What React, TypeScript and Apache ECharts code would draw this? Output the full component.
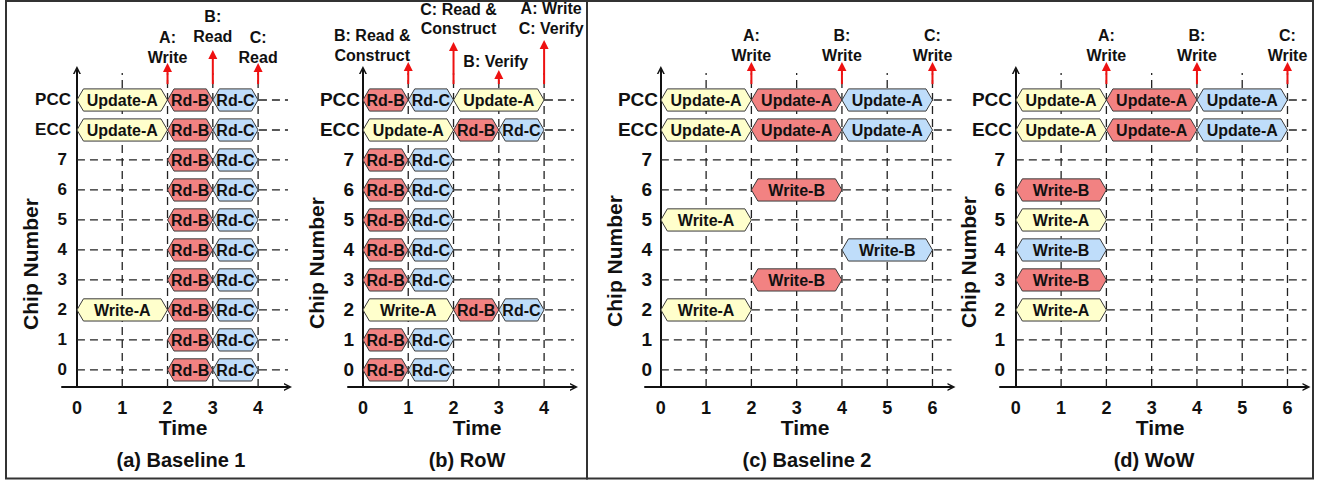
import React, { useEffect, useRef } from 'react';
import * as echarts from 'echarts';

// ---------- data ----------
const ROW_NAMES = ['0', '1', '2', '3', '4', '5', '6', '7', 'ECC', 'PCC'];
const ROW_VALUES = [0, 1, 2, 3, 4, 5, 6, 7, 8, 9];
const TIMES_SHORT = [0, 1, 2, 3, 4];
const TIMES_LONG = [0, 1, 2, 3, 4, 5, 6];

// [row, start, end, label, request]
const baseline1Tasks = [
  ['PCC', 0, 2, 'Update-A', 'A'], ['PCC', 2, 3, 'Rd-B', 'B'], ['PCC', 3, 4, 'Rd-C', 'C'],
  ['ECC', 0, 2, 'Update-A', 'A'], ['ECC', 2, 3, 'Rd-B', 'B'], ['ECC', 3, 4, 'Rd-C', 'C'],
  ['7', 2, 3, 'Rd-B', 'B'], ['7', 3, 4, 'Rd-C', 'C'],
  ['6', 2, 3, 'Rd-B', 'B'], ['6', 3, 4, 'Rd-C', 'C'],
  ['5', 2, 3, 'Rd-B', 'B'], ['5', 3, 4, 'Rd-C', 'C'],
  ['4', 2, 3, 'Rd-B', 'B'], ['4', 3, 4, 'Rd-C', 'C'],
  ['3', 2, 3, 'Rd-B', 'B'], ['3', 3, 4, 'Rd-C', 'C'],
  ['2', 0, 2, 'Write-A', 'A'], ['2', 2, 3, 'Rd-B', 'B'], ['2', 3, 4, 'Rd-C', 'C'],
  ['1', 2, 3, 'Rd-B', 'B'], ['1', 3, 4, 'Rd-C', 'C'],
  ['0', 2, 3, 'Rd-B', 'B'], ['0', 3, 4, 'Rd-C', 'C'],
];

const rowTasks = [
  ['PCC', 0, 1, 'Rd-B', 'B'], ['PCC', 1, 2, 'Rd-C', 'C'], ['PCC', 2, 4, 'Update-A', 'A'],
  ['ECC', 0, 2, 'Update-A', 'A'], ['ECC', 2, 3, 'Rd-B', 'B'], ['ECC', 3, 4, 'Rd-C', 'C'],
  ['7', 0, 1, 'Rd-B', 'B'], ['7', 1, 2, 'Rd-C', 'C'],
  ['6', 0, 1, 'Rd-B', 'B'], ['6', 1, 2, 'Rd-C', 'C'],
  ['5', 0, 1, 'Rd-B', 'B'], ['5', 1, 2, 'Rd-C', 'C'],
  ['4', 0, 1, 'Rd-B', 'B'], ['4', 1, 2, 'Rd-C', 'C'],
  ['3', 0, 1, 'Rd-B', 'B'], ['3', 1, 2, 'Rd-C', 'C'],
  ['2', 0, 2, 'Write-A', 'A'], ['2', 2, 3, 'Rd-B', 'B'], ['2', 3, 4, 'Rd-C', 'C'],
  ['1', 0, 1, 'Rd-B', 'B'], ['1', 1, 2, 'Rd-C', 'C'],
  ['0', 0, 1, 'Rd-B', 'B'], ['0', 1, 2, 'Rd-C', 'C'],
];

const baseline2Tasks = [
  ['PCC', 0, 2, 'Update-A', 'A'], ['PCC', 2, 4, 'Update-A', 'B'], ['PCC', 4, 6, 'Update-A', 'C'],
  ['ECC', 0, 2, 'Update-A', 'A'], ['ECC', 2, 4, 'Update-A', 'B'], ['ECC', 4, 6, 'Update-A', 'C'],
  ['6', 2, 4, 'Write-B', 'B'],
  ['5', 0, 2, 'Write-A', 'A'],
  ['4', 4, 6, 'Write-B', 'C'],
  ['3', 2, 4, 'Write-B', 'B'],
  ['2', 0, 2, 'Write-A', 'A'],
];

const wowTasks = [
  ['PCC', 0, 2, 'Update-A', 'A'], ['PCC', 2, 4, 'Update-A', 'B'], ['PCC', 4, 6, 'Update-A', 'C'],
  ['ECC', 0, 2, 'Update-A', 'A'], ['ECC', 2, 4, 'Update-A', 'B'], ['ECC', 4, 6, 'Update-A', 'C'],
  ['6', 0, 2, 'Write-B', 'B'],
  ['5', 0, 2, 'Write-A', 'A'],
  ['4', 0, 2, 'Write-B', 'C'],
  ['3', 0, 2, 'Write-B', 'B'],
  ['2', 0, 2, 'Write-A', 'A'],
];

// [time, label]
const baseline1Events = [[2, 'A:\nWrite'], [3, 'B:\nRead'], [4, 'C:\nRead']];
const rowEvents = [[1, 'B: Read &\nConstruct'], [2, 'C: Read &\nConstruct'], [3, 'B: Verify'], [4, 'A: Write\nC: Verify']];
const baseline2Events = [[2, 'A:\nWrite'], [4, 'B:\nWrite'], [6, 'C:\nWrite']];
const wowEvents = [[2, 'A:\nWrite'], [4, 'B:\nWrite'], [6, 'C:\nWrite']];

const PANEL_TITLES = ['(a) Baseline 1', '(b) RoW', '(c) Baseline 2', '(d) WoW'];

// ---------- layout / style ----------
const FONT = '"Liberation Sans", Arial, Helvetica, sans-serif';
const COLORS = { A: '#FFFFCC', B: '#F28282', C: '#BFDDFA' };
const ARROW_RED = '#EE1111';
const Y_MIN = -0.57;
const Y_MAX = 10;
const BAR_H = 0.74;
const ARROW_BASE = 9.53;
const CHEVRON = 'path://M0,10 L5,0 L10,10 L8,10 L5,4 L2,10 Z';

// event arrow layout: tip level, level of last label line, horizontal label shift (px)
const baseline1Layout = [{ tip: 10.23, label: 10.43, dx: 0 }, { tip: 10.67, label: 11.12, dx: 0 }, { tip: 10.23, label: 10.43, dx: 0 }];
const rowLayout = [{ tip: 10.27, label: 10.5, dx: -36 }, { tip: 10.93, label: 11.37, dx: 5 }, { tip: 10.0, label: 10.3, dx: -3 }, { tip: 11.0, label: 11.4, dx: 7 }];
const b2Layout = [{ tip: 10.27, label: 10.5, dx: 0 }, { tip: 10.27, label: 10.5, dx: 0 }, { tip: 10.27, label: 10.5, dx: 0 }];

const panels = [
  { tasks: baseline1Tasks, events: baseline1Events, layout: baseline1Layout, times: TIMES_SHORT, xMin: -0.33, xMax: 4.66, grid: { left: 62, width: 226 }, yFont: 17, yMargin: -9, digitPad: 4, time: 183, title: 181, chip: [30, 264] },
  { tasks: rowTasks, events: rowEvents, layout: rowLayout, times: TIMES_SHORT, xMin: -0.33, xMax: 4.66, grid: { left: 348, width: 226 }, yFont: 19, yMargin: -12, digitPad: 6, time: 477, title: 467, chip: [316, 263] },
  { tasks: baseline2Tasks, events: baseline2Events, layout: b2Layout, times: TIMES_LONG, xMin: -0.35, xMax: 6.42, grid: { left: 645, width: 306.5 }, yFont: 19, yMargin: -13, digitPad: 6, time: 805, title: 807, chip: [614, 261] },
  { tasks: wowTasks, events: wowEvents, layout: b2Layout, times: TIMES_LONG, xMin: -0.35, xMax: 6.42, grid: { left: 1000, width: 306.5 }, yFont: 19, yMargin: -12, digitPad: 7, time: 1160, title: 1154, chip: [968, 262] },
];

function buildOption() {
  const grid: any[] = [];
  const xAxis: any[] = [];
  const yAxis: any[] = [];
  const series: any[] = [];
  const graphic: any[] = [];

  panels.forEach((p, i) => {
    grid.push({ left: p.grid.left, width: p.grid.width, top: 70, height: 317, containLabel: false });
    xAxis.push({
      type: 'value', gridIndex: i, min: p.xMin, max: p.xMax,
      axisLine: { show: true, onZero: false, symbol: ['none', CHEVRON], symbolSize: [11, 8], lineStyle: { color: '#111', width: 2 } },
      axisTick: { show: false },
      splitLine: { show: false },
      axisLabel: { customValues: p.times, margin: 12, fontSize: 18, fontWeight: 'bold', color: '#111', fontFamily: FONT },
    });
    const labelStyle = { fontSize: p.yFont, fontWeight: 'bold', color: '#111', fontFamily: FONT };
    yAxis.push({
      type: 'value', gridIndex: i, min: Y_MIN, max: Y_MAX,
      axisLine: { show: true, onZero: true, symbol: ['none', CHEVRON], symbolSize: [11, 8], lineStyle: { color: '#111', width: 2 } },
      axisTick: { show: false },
      splitLine: { show: false },
      axisLabel: {
        customValues: ROW_VALUES, margin: p.yMargin, ...labelStyle,
        formatter: (v: number) => {
          const name = ROW_NAMES[Math.round(v)] ?? '';
          return /^\d+$/.test(name) ? `{d|${name}}` : `{n|${name}}`;
        },
        rich: {
          d: { ...labelStyle, padding: [0, p.digitPad, 0, 0] },
          n: { ...labelStyle },
        },
      },
    });

    // horizontal dashed grid lines
    series.push({
      type: 'custom', xAxisIndex: i, yAxisIndex: i, z: 1, silent: true,
      data: ROW_VALUES.map((v) => [0, v]),
      renderItem: (params: any, api: any) => {
        const cs = params.coordSys;
        const pt = api.coord([0, api.value(1)]);
        return {
          type: 'line',
          shape: { x1: pt[0], y1: pt[1], x2: cs.x + cs.width, y2: pt[1] },
          style: { stroke: '#222', lineWidth: 1.3, lineDash: [8, 5] },
        };
      },
    });
    // vertical dashed grid lines
    series.push({
      type: 'custom', xAxisIndex: i, yAxisIndex: i, z: 1, silent: true,
      data: p.times.filter((t) => t > 0).map((t) => [t, 0]),
      renderItem: (params: any, api: any) => {
        const cs = params.coordSys;
        const pt = api.coord([api.value(0), 0]);
        return {
          type: 'line',
          shape: { x1: pt[0], y1: cs.y + cs.height, x2: pt[0], y2: cs.y + 3 },
          style: { stroke: '#222', lineWidth: 1.3, lineDash: [8, 5] },
        };
      },
    });
    // hexagon task bars
    const tasks = p.tasks;
    series.push({
      type: 'custom', xAxisIndex: i, yAxisIndex: i, z: 3, silent: true,
      data: tasks.map((t: any) => [ROW_NAMES.indexOf(t[0]), t[1], t[2]]),
      renderItem: (params: any, api: any) => {
        const t: any = tasks[params.dataIndex];
        const row = api.value(0);
        const a = api.coord([api.value(1), row]);
        const b = api.coord([api.value(2), row]);
        const h = Math.abs(api.size([0, BAR_H])[1]);
        const ins = 6.5;
        const y = a[1];
        const pts = [
          [a[0], y], [a[0] + ins, y - h / 2], [b[0] - ins, y - h / 2],
          [b[0], y], [b[0] - ins, y + h / 2], [a[0] + ins, y + h / 2],
        ];
        return {
          type: 'group',
          children: [
            { type: 'polygon', shape: { points: pts }, style: { fill: (COLORS as any)[t[4]], stroke: '#3a3a3a', lineWidth: 1 } },
            {
              type: 'text',
              style: {
                text: t[3], x: (a[0] + b[0]) / 2, y: y + 0.5,
                align: 'center', verticalAlign: 'middle', textAlign: 'center', textVerticalAlign: 'middle',
                font: `bold 16px ${FONT}`, fill: '#111',
              },
            },
          ],
        };
      },
    });
    // red event arrows with labels
    const events = p.events;
    const layout = p.layout;
    series.push({
      type: 'custom', xAxisIndex: i, yAxisIndex: i, z: 4, silent: true, clip: false,
      data: events.map((e: any) => [e[0], 0]),
      renderItem: (params: any, api: any) => {
        const ev: any = events[params.dataIndex];
        const lay: any = layout[params.dataIndex];
        const t = api.value(0);
        const base = api.coord([t, ARROW_BASE]);
        const tip = api.coord([t, lay.tip]);
        const lab = api.coord([t, lay.label]);
        const x = base[0];
        const lines = String(ev[1]).split('\n');
        const LH = 19.5;
        const cy = lab[1] - ((lines.length - 1) * LH) / 2;
        return {
          type: 'group',
          children: [
            { type: 'line', shape: { x1: x, y1: base[1], x2: x, y2: tip[1] + 8 }, style: { stroke: ARROW_RED, lineWidth: 2 } },
            { type: 'polygon', shape: { points: [[x, tip[1]], [x - 4.5, tip[1] + 9], [x + 4.5, tip[1] + 9]] }, style: { fill: ARROW_RED } },
            {
              type: 'text',
              style: {
                text: ev[1], x: x + lay.dx, y: cy, lineHeight: LH,
                align: 'center', verticalAlign: 'middle', textAlign: 'center', textVerticalAlign: 'middle',
                font: `bold 16px ${FONT}`, fill: '#111',
              },
            },
          ],
        };
      },
    });

    graphic.push({
      type: 'text', x: p.time, y: 427,
      style: { text: 'Time', font: `bold 21px ${FONT}`, fill: '#111', align: 'center', verticalAlign: 'middle', textAlign: 'center', textVerticalAlign: 'middle' },
    });
    graphic.push({
      type: 'text', x: p.title, y: 460,
      style: { text: PANEL_TITLES[i], font: `bold 20px ${FONT}`, fill: '#111', align: 'center', verticalAlign: 'middle', textAlign: 'center', textVerticalAlign: 'middle' },
    });
    graphic.push({
      type: 'text', x: p.chip[0], y: p.chip[1], rotation: Math.PI / 2,
      style: { text: 'Chip Number', font: `bold 21px ${FONT}`, fill: '#111', align: 'center', verticalAlign: 'middle', textAlign: 'center', textVerticalAlign: 'middle' },
    });
  });

  graphic.push({ type: 'rect', shape: { x: 6, y: 1, width: 581, height: 477.5 }, style: { fill: 'none', stroke: '#333', lineWidth: 2 } });
  graphic.push({ type: 'rect', shape: { x: 587, y: 1, width: 726, height: 477.5 }, style: { fill: 'none', stroke: '#333', lineWidth: 2 } });

  return {
    animation: false,
    backgroundColor: '#ffffff',
    grid, xAxis, yAxis, series, graphic,
  };
}

export default function App() {
  const ref = useRef<HTMLDivElement>(null);
  useEffect(() => {
    if (!ref.current) return;
    const chart = echarts.init(ref.current, undefined, { renderer: 'svg' });
    chart.setOption(buildOption() as any);
    return () => chart.dispose();
  }, []);
  return <div ref={ref} style={{ position: 'absolute', left: 0, top: 0, width: 1320, height: 480 }} />;
}
